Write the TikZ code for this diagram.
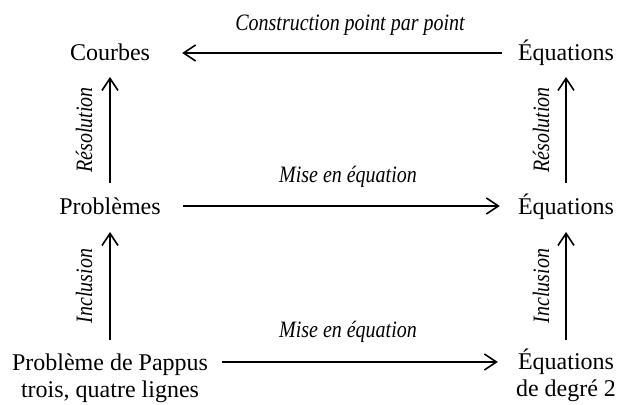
\documentclass[tikz,border=0pt]{standalone}
\usepackage{fontspec}
\setmainfont{Liberation Serif}
\newfontfamily\labfont[FakeStretch=0.85]{Liberation Serif}
\usetikzlibrary{arrows.meta}
\begin{document}
\begin{tikzpicture}[x=1pt,y=1pt,
  term/.style={inner sep=0pt, font=\fontsize{24}{27}\selectfont},
  lab/.style={inner sep=0pt, font=\labfont\fontsize{23.5}{27}\selectfont\itshape},
  arr/.style={line width=1.5pt, -{Straight Barb[length=12pt,width=16pt,line width=1.6pt]}}]
\useasboundingbox (0,0) rectangle (617,404);
\node[term, anchor=base] (C) at (110,343) {Courbes};
\node[term, anchor=base] (E1) at (566,343) {Équations};
\node[term, anchor=base] (P) at (110,189) {Problèmes};
\node[term, anchor=base] (E2) at (566,189) {Équations};
\node[term, align=center] (PP) at (110,26) {Problème de Pappus\\trois, quatre lignes};
\node[term, align=center] (E3) at (566,28.7) {Équations\\de degré 2};
% labels
\node[lab] (L1) at (350,379) {Construction point par point};
\node[lab] (L2) at (348,227) {Mise en équation};
\node[lab] (L3) at (348,72) {Mise en équation};
\node[lab, rotate=90] (R1) at (84,274) {Résolution};
\node[lab, rotate=90] (R2) at (541,274) {Résolution};
\node[lab, rotate=90] (I1) at (84,118) {Inclusion};
\node[lab, rotate=90] (I2) at (541,118) {Inclusion};
% horizontal arrows
\draw[arr] ([shift={(-16,8)}]E1.base west) -- ([shift={(32,8)}]C.base east);
\draw[arr] ([shift={(22,9)}]P.base east) -- ([shift={(-18,9)}]E2.base west);
\draw[arr] ([shift={(14,16)}]PP.east) -- ([shift={(-18,13.3)}]E3.west);
% vertical arrows
\draw[arr] ([yshift=32]P.base) -- ([yshift=-16]C.base);
\draw[arr] ([yshift=32]E2.base) -- ([yshift=-16]E1.base);
\draw[arr] ([yshift=38]PP.center) -- ([yshift=-17]P.base);
\draw[arr] ([yshift=35.3]E3.center) -- ([yshift=-17]E2.base);
\end{tikzpicture}
\end{document}
